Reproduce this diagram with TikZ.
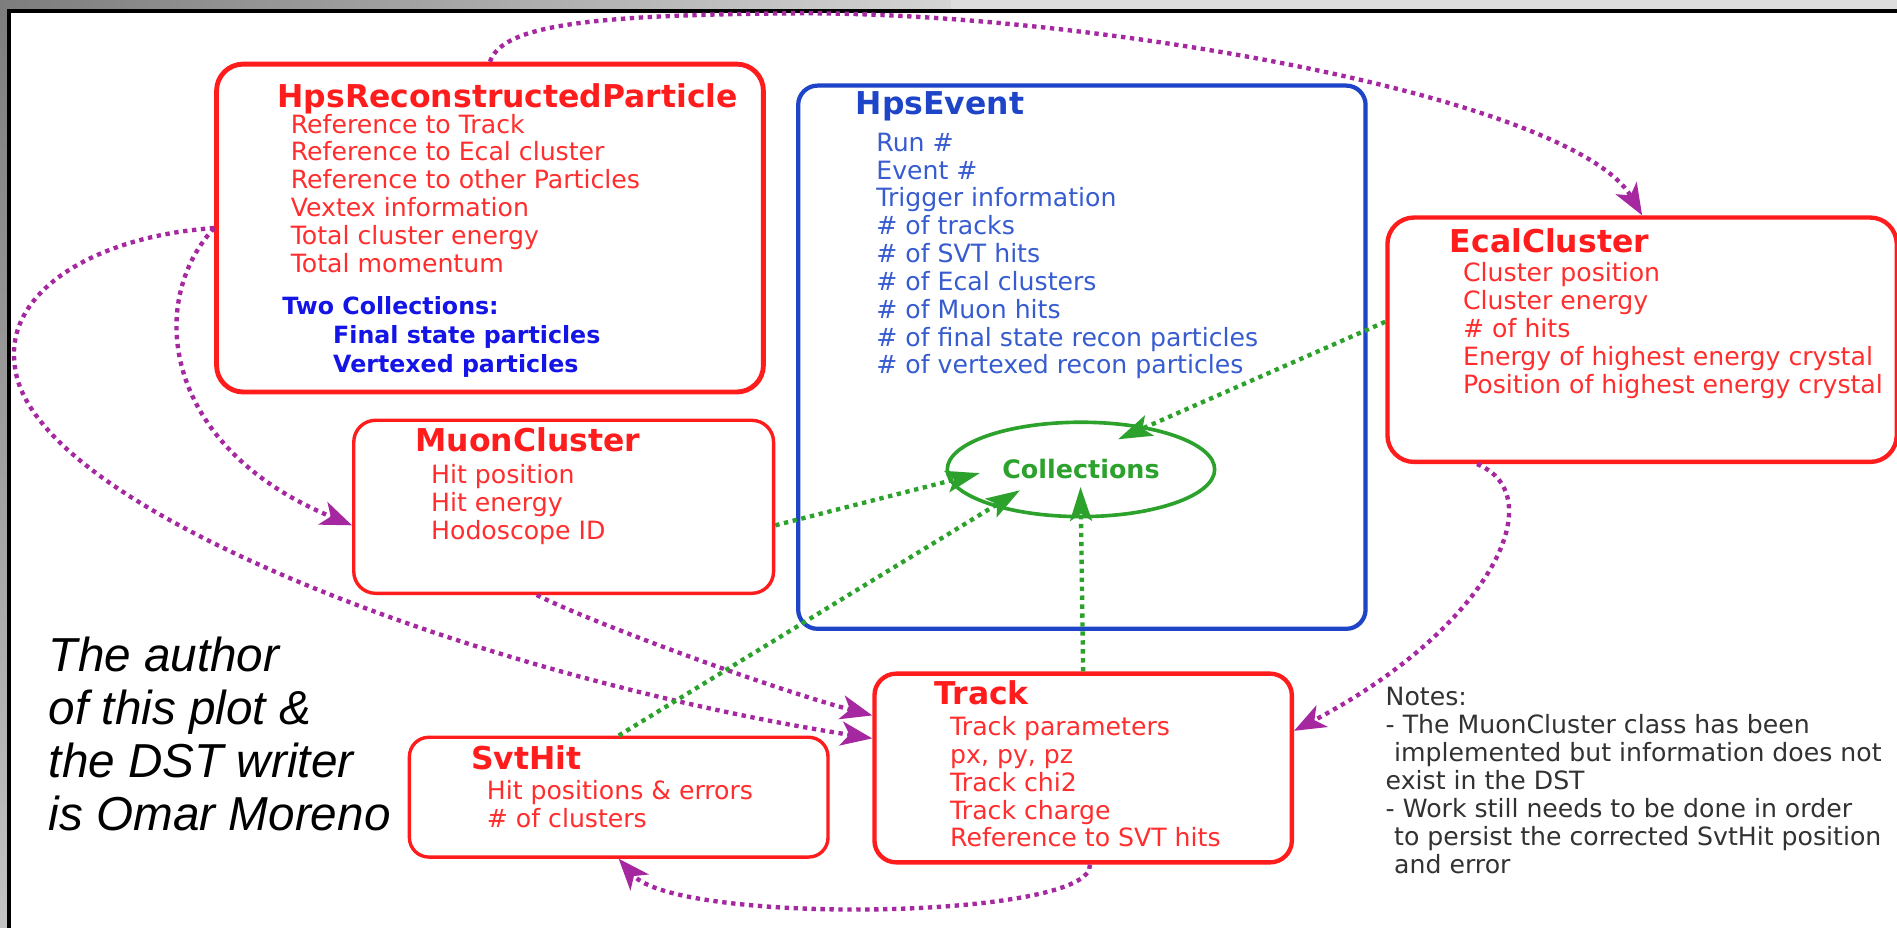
\documentclass[tikz,border=0pt]{standalone}
\usepackage{fontspec}
\setmainfont{DejaVu Sans}
\newfontfamily\authorfont{Liberation Sans}
\usetikzlibrary{arrows.meta,shapes.geometric}

\definecolor{boxred}{RGB}{255,28,28}
\definecolor{txtred}{RGB}{255,45,45}
\definecolor{evblue}{RGB}{30,68,200}
\definecolor{evtext}{RGB}{55,92,208}
\definecolor{colblue}{RGB}{20,20,230}
\definecolor{linkpurple}{RGB}{165,40,160}
\definecolor{linkgreen}{RGB}{44,162,44}
\definecolor{notegray}{RGB}{50,50,50}
\definecolor{bardark}{RGB}{125,125,125}
\definecolor{barlight}{RGB}{212,212,212}
\definecolor{barside}{RGB}{195,195,195}

\begin{document}
\begin{tikzpicture}[x=0.5pt, y=-0.5pt,
    classbox/.style={draw=boxred, anchor=north west, inner sep=0},
    ttl/.style={inner sep=0, anchor=base west, font=\fontsize{13}{15}\selectfont\bfseries},
    txt/.style={inner sep=0, anchor=base west, font=\fontsize{10.4}{12}\selectfont},
    coltxt/.style={txt, text=colblue, font=\fontsize{9.8}{12}\selectfont\bfseries},
    ptr/.style={draw=linkpurple, line width=1.8pt, dash pattern=on 1.8pt off 1.9pt,
      -{Stealth[length=13pt, width=10pt, inset=3.5pt]}},
    tocoll/.style={draw=linkgreen, line width=1.8pt, dash pattern=on 1.8pt off 1.9pt,
      -{Stealth[length=14pt, width=9pt, inset=3pt]}, shorten >=-13pt}]
    \useasboundingbox (0,0) rectangle (1568,767);
    \fill[white] (0,0) rectangle (1568,767);
    \shade[left color=bardark, right color=barlight] (0,0) rectangle (786,8);
    \fill[barlight!80!white] (786,0) rectangle (1568,8);
    \shade[top color=bardark, bottom color=barside] (0,8) rectangle (6,767);
    \draw[line width=1.6pt] (7.5,767) -- (7.5,8.8) -- (1568,8.8);

    \node[classbox, line width=2pt, rounded corners=11pt, minimum width=226pt, minimum height=135.5pt] (reco) at (177,51) {};
    \node[classbox, draw=evblue, line width=1.75pt, rounded corners=8pt, minimum width=234.5pt, minimum height=224.5pt] (event) at (658,69) {};
    \node[classbox, line width=1.8pt, rounded corners=11pt, minimum width=210.5pt, minimum height=101pt] (ecal) at (1145,178) {};
    \node[classbox, line width=1.4pt, rounded corners=9pt, minimum width=173.5pt, minimum height=71.5pt] (muon) at (291,346) {};
    \node[classbox, line width=1.8pt, rounded corners=9pt, minimum width=172.5pt, minimum height=78pt] (track) at (721,555) {};
    \node[classbox, line width=1.4pt, rounded corners=8pt, minimum width=173pt, minimum height=49.5pt] (svt) at (337,608) {};
    \node[ellipse, draw=linkgreen, line width=1.5pt, minimum width=110.5pt, minimum height=39pt, inner sep=0,
      text=linkgreen, font=\fontsize{10.5}{12}\selectfont\bfseries] (coll) at (893.5,388) {Collections};

    \node[ttl, text=boxred] (reco-t) at (229,89) {HpsReconstructedParticle};
    \foreach \t [count=\i from 0] in {Reference to Track, Reference to Ecal cluster, Reference to other Particles,
        Vextex information, Total cluster energy, Total momentum}
      \node[txt, text=txtred] (reco-\i) at (240,110+23*\i) {\t};
    \node[coltxt] (reco-c) at (233,260) {Two Collections:};
    \node[coltxt] (reco-f) at (275,284) {Final state particles};
    \node[coltxt] (reco-v) at (275,308) {Vertexed particles};

    \node[ttl, text=evblue] (event-t) at (707,95) {HpsEvent};
    \foreach \t [count=\i from 0] in {Run \#, Event \#, Trigger information, \# of tracks, \# of SVT hits,
        \# of Ecal clusters, \# of Muon hits, \# of final state recon particles, \# of vertexed recon particles}
      \node[txt, text=evtext] (event-\i) at (724,125+23*\i) {\t};

    \node[ttl, text=boxred] (ecal-t) at (1198,209) {EcalCluster};
    \foreach \t [count=\i from 0] in {Cluster position, Cluster energy, \# of hits,
        Energy of highest energy crystal, Position of highest energy crystal}
      \node[txt, text=txtred] (ecal-\i) at (1209,233+23*\i) {\t};

    \node[ttl, text=boxred] (muon-t) at (343,373) {MuonCluster};
    \foreach \t [count=\i from 0] in {Hit position, Hit energy, Hodoscope ID}
      \node[txt, text=txtred] (muon-\i) at (356,400+23*\i) {\t};

    \node[ttl, text=boxred] (track-t) at (772,582) {Track};
    \foreach \t [count=\i from 0] in {Track parameters, {px, py, pz}, Track chi2, Track charge, Reference to SVT hits}
      \node[txt, text=txtred] (track-\i) at (785,608+23*\i) {\t};

    \node[ttl, text=boxred] (svt-t) at (389,636) {SvtHit};
    \foreach \t [count=\i from 0] in {Hit positions \& errors, \# of clusters}
      \node[txt, text=txtred] (svt-\i) at (402,661+23*\i) {\t};

    \foreach \t/\x [count=\i from 0] in {Notes:/1145, - The MuonCluster class has been/1145,
        implemented but information does not/1152, exist in the DST/1145,
        - Work still needs to be done in order/1145, to persist the corrected SvtHit position/1152, and error/1152}
      \node[txt, text=notegray] (note-\i) at (\x,583+23.2*\i) {\t};

    \foreach \t [count=\i from 0] in {The author, of this plot \&, the DST writer, is Omar Moreno}
      \node[inner sep=0, anchor=base west, font=\authorfont\itshape\fontsize{19.7}{22}\selectfont] (author-\i) at (40,555+43.7*\i) {\t};

    \draw[ptr] (reco.north) .. controls (415,22) and (480,12) .. (661,11) .. controls (900,10) and (1300,80) .. (ecal.north);
    \draw[ptr] (reco.west) .. controls (80,195) and (5,240) .. (12,300) .. controls (20,420) and (400,560) .. (track.172);
    \draw[ptr] (reco.west) .. controls (120,250) and (135,370) .. (muon.185);
    \draw[ptr] (muon.253) .. controls (490,515) and (640,570) .. (track.166);
    \draw[ptr] (ecal.217) .. controls (1285,410) and (1230,520) .. (track.10);
    \draw[ptr] (track.274) .. controls (905,760) and (560,765) .. (svt.south);

    \draw[tocoll] (muon.355) -- (coll.185);
    \draw[tocoll] (svt.north) -- (coll.203);
    \draw[tocoll] (track.north) -- (coll.south);
    \draw[tocoll] (ecal.176) -- (coll.33);
\end{tikzpicture}
\end{document}
